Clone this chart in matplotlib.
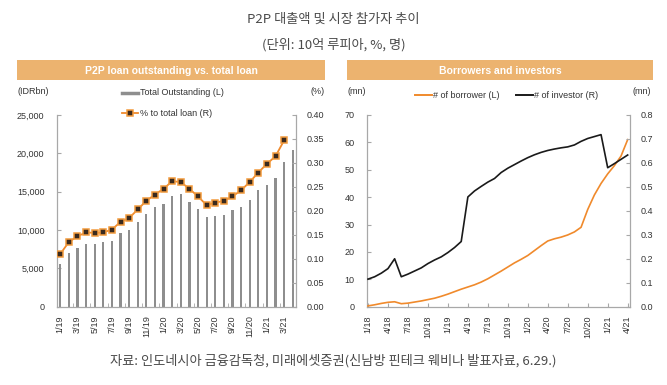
import matplotlib
matplotlib.use("Agg")
import matplotlib.pyplot as plt
from matplotlib.patches import Rectangle
from matplotlib.lines import Line2D

plt.rcParams['font.family'] = ['Liberation Sans', 'DejaVu Sans']

# ---------------- data ----------------
left_months = ['1/19', '2/19', '3/19', '4/19', '5/19', '6/19', '7/19', '8/19', '9/19', '10/19',
               '11/19', '12/19', '1/20', '2/20', '3/20', '4/20', '5/20', '6/20', '7/20', '8/20',
               '9/20', '10/20', '11/20', '12/20', '1/21', '2/21', '3/21', '4/21']
total_outstanding = [5550, 6950, 7650, 8130, 8180, 8400, 8620, 9560, 10050, 11080,
                     12070, 13060, 13380, 14400, 14650, 13620, 12720, 11680, 11810, 11980,
                     12550, 13060, 13970, 15220, 15920, 16780, 18900, 20460]
pct_total_loan = [0.110, 0.135, 0.147, 0.155, 0.154, 0.155, 0.161, 0.177, 0.185, 0.203,
                  0.221, 0.234, 0.246, 0.262, 0.260, 0.246, 0.230, 0.212, 0.217, 0.221,
                  0.230, 0.243, 0.260, 0.280, 0.298, 0.314, 0.347]
left_ticklabels = ['1/19', '3/19', '5/19', '7/19', '9/19', '11/19', '1/20', '3/20',
                   '5/20', '7/20', '9/20', '11/20', '1/21', '3/21']

right_months = ['1/18', '2/18', '3/18', '4/18', '5/18', '6/18', '7/18', '8/18', '9/18', '10/18',
                '11/18', '12/18', '1/19', '2/19', '3/19', '4/19', '5/19', '6/19', '7/19', '8/19',
                '9/19', '10/19', '11/19', '12/19', '1/20', '2/20', '3/20', '4/20', '5/20', '6/20',
                '7/20', '8/20', '9/20', '10/20', '11/20', '12/20', '1/21', '2/21', '3/21', '4/21']
borrowers = [0.3, 0.7, 1.2, 1.6, 1.8, 1.1, 1.3, 1.7, 2.1, 2.6,
             3.1, 3.8, 4.6, 5.5, 6.4, 7.2, 8.0, 9.0, 10.2, 11.6,
             13.0, 14.5, 16.0, 17.3, 18.7, 20.5, 22.3, 24.0, 24.8, 25.4,
             26.2, 27.3, 29.0, 35.5, 40.8, 45.0, 48.5, 51.5, 55.0, 61.0]
investors = [0.115, 0.125, 0.140, 0.159, 0.200, 0.125, 0.136, 0.149, 0.162, 0.180,
             0.195, 0.208, 0.226, 0.247, 0.272, 0.458, 0.483, 0.502, 0.520, 0.535,
             0.560, 0.578, 0.593, 0.608, 0.622, 0.634, 0.644, 0.652, 0.658, 0.663,
             0.667, 0.675, 0.690, 0.702, 0.710, 0.718, 0.580, 0.597, 0.615, 0.633]
right_ticklabels = ['1/18', '4/18', '7/18', '10/18', '1/19', '4/19', '7/19', '10/19',
                    '1/20', '4/20', '7/20', '10/20', '1/21', '4/21']

# ---------------- style ----------------
W, H = 667, 385
ORANGE = '#F08A2C'
MEDGE = '#F39B3D'
MFACE = '#3a2a1e'
HEADER = '#ECB36F'
BAR = '#8E8E8E'
SPINE = '#A8A8A8'
TXT = '#333333'
FS = 6.5
KR = ['Noto Sans CJK KR', 'DejaVu Sans']

fig = plt.figure(figsize=(W / 100, H / 100), dpi=100)
fig.patch.set_facecolor('white')


def fx(px):
    return px / W


def fy(py):
    return 1 - py / H


# titles
fig.text(0.5, fy(19), 'P2P 대출액 및 시장 참가자 추이', ha='center', va='center',
         fontsize=9.5, color='#4a4a4a', family=KR, fontweight='light')
fig.text(0.5, fy(45), '(단위: 10억 루피아, %, 명)', ha='center', va='center',
         fontsize=9.5, color='#4a4a4a', family=KR, fontweight='light')
fig.text(0.5, fy(361), '자료: 인도네시아 금융감독청, 미래에셋증권(신남방 핀테크 웨비나 발표자료, 6.29.)',
         ha='center', va='center', fontsize=9.5, color='#4a4a4a', family=KR,
         fontweight='light')

# header bars
for x0, x1, label in [(17, 325, 'P2P loan outstanding vs. total loan'),
                      (347, 653, 'Borrowers and investors')]:
    fig.patches.append(Rectangle((fx(x0), fy(80)), fx(x1 - x0), (80 - 60) / H,
                                 transform=fig.transFigure, facecolor=HEADER,
                                 edgecolor='none'))
    fig.text(fx((x0 + x1) / 2), fy(70.5), label, ha='center', va='center',
             fontsize=7.5, color='white', fontweight='bold')


def style_axes(ax, ax2):
    for a in (ax, ax2):
        for s in a.spines.values():
            s.set_color(SPINE)
            s.set_linewidth(0.9)
        a.spines['top'].set_visible(False)
        a.set_facecolor('none')
    ax.spines['right'].set_visible(False)
    ax2.spines['left'].set_visible(False)
    ax2.spines['bottom'].set_visible(False)
    ax.tick_params(axis='y', direction='in', length=3, color=SPINE, labelsize=FS,
                   labelcolor=TXT, pad=9)
    ax2.tick_params(axis='y', direction='in', length=3, color=SPINE, labelsize=FS,
                    labelcolor=TXT, pad=8)


# ---------------- left chart ----------------
axL = fig.add_axes([fx(57), fy(306.7), fx(296 - 57), (306.7 - 115) / H])
axL2 = axL.twinx()
xl = list(range(len(left_months)))
axL.bar(xl, total_outstanding, width=0.26, color=BAR, zorder=2)
axL2.plot(xl[:len(pct_total_loan)], pct_total_loan, color=ORANGE, lw=1.3,
          marker='s', markersize=3.8, markerfacecolor=MFACE,
          markeredgecolor=MEDGE, markeredgewidth=1.1, zorder=3)
axL.set_xlim(-0.38, len(left_months) - 1 + 0.38)
axL.set_ylim(0, 25000)
axL2.set_ylim(0, 0.40)
axL.set_yticks([0, 5000, 10000, 15000, 20000, 25000])
axL.set_yticklabels(['0', '5,000', '10,000', '15,000', '20,000', '25,000'])
axL2.set_yticks([i * 0.05 for i in range(9)])
axL2.set_yticklabels([f'{i * 0.05:.2f}' for i in range(9)])
style_axes(axL, axL2)
axL.set_xticks([left_months.index(t) for t in left_ticklabels])
axL.set_xticklabels(left_ticklabels, rotation=90, fontsize=FS, color=TXT)
axL.tick_params(axis='x', which='major', length=0, pad=6)
axL.set_xticks([i + 1.5 for i in range(0, len(left_months) - 2, 2)], minor=True)
axL.tick_params(axis='x', which='minor', direction='in', length=3, color=SPINE)

fig.text(fx(17), fy(91), '(IDRbn)', ha='left', va='center', fontsize=FS, color=TXT)
fig.text(fx(325), fy(91), '(%)', ha='right', va='center', fontsize=FS, color=TXT)
fig.lines.append(Line2D([fx(122), fx(138)], [fy(92.5), fy(92.5)], transform=fig.transFigure,
                        color=BAR, lw=2.5))
fig.text(fx(140), fy(92.5), 'Total Outstanding (L)', ha='left', va='center', fontsize=FS,
         color=TXT)
fig.lines.append(Line2D([fx(122), fx(138)], [fy(113), fy(113)], transform=fig.transFigure,
                        color=ORANGE, lw=1.3))
fig.lines.append(Line2D([fx(130)], [fy(113)], transform=fig.transFigure, marker='s',
                        markersize=3.8, markerfacecolor=MFACE, markeredgecolor=MEDGE,
                        markeredgewidth=1.1, lw=0))
fig.text(fx(140), fy(113), '% to total loan (R)', ha='left', va='center', fontsize=FS,
         color=TXT)

# ---------------- right chart ----------------
axR = fig.add_axes([fx(367), fy(306.7), fx(630 - 367), (306.7 - 115) / H])
axR2 = axR.twinx()
xr = list(range(len(right_months)))
axR.plot(xr, borrowers, color=ORANGE, lw=1.2, zorder=3)
axR2.plot(xr, investors, color='#1a1a1a', lw=1.2, zorder=3)
axR.set_xlim(-0.15, len(right_months) - 1 + 0.35)
axR.set_ylim(0, 70)
axR2.set_ylim(0, 0.8)
axR.set_yticks(range(0, 71, 10))
axR2.set_yticks([i / 10 for i in range(9)])
axR2.set_yticklabels([f'{i / 10:.1f}' for i in range(9)])
style_axes(axR, axR2)
axR.set_xticks([right_months.index(t) for t in right_ticklabels])
axR.set_xticklabels(right_ticklabels, rotation=90, fontsize=FS, color=TXT)
axR.tick_params(axis='x', which='major', direction='in', length=3, color=SPINE, pad=6)

fig.text(fx(347), fy(91), '(mn)', ha='left', va='center', fontsize=FS, color=TXT)
fig.text(fx(651), fy(91), '(mn)', ha='right', va='center', fontsize=FS, color=TXT)
fig.lines.append(Line2D([fx(415), fx(432)], [fy(95), fy(95)], transform=fig.transFigure,
                        color=ORANGE, lw=1.4))
fig.text(fx(433), fy(95), '# of borrower (L)', ha='left', va='center', fontsize=FS, color=TXT)
fig.lines.append(Line2D([fx(516), fx(533)], [fy(95), fy(95)], transform=fig.transFigure,
                        color='#1a1a1a', lw=1.4))
fig.text(fx(534), fy(95), '# of investor (R)', ha='left', va='center', fontsize=FS, color=TXT)

fig.savefig('out.png', dpi=100, facecolor='white')
